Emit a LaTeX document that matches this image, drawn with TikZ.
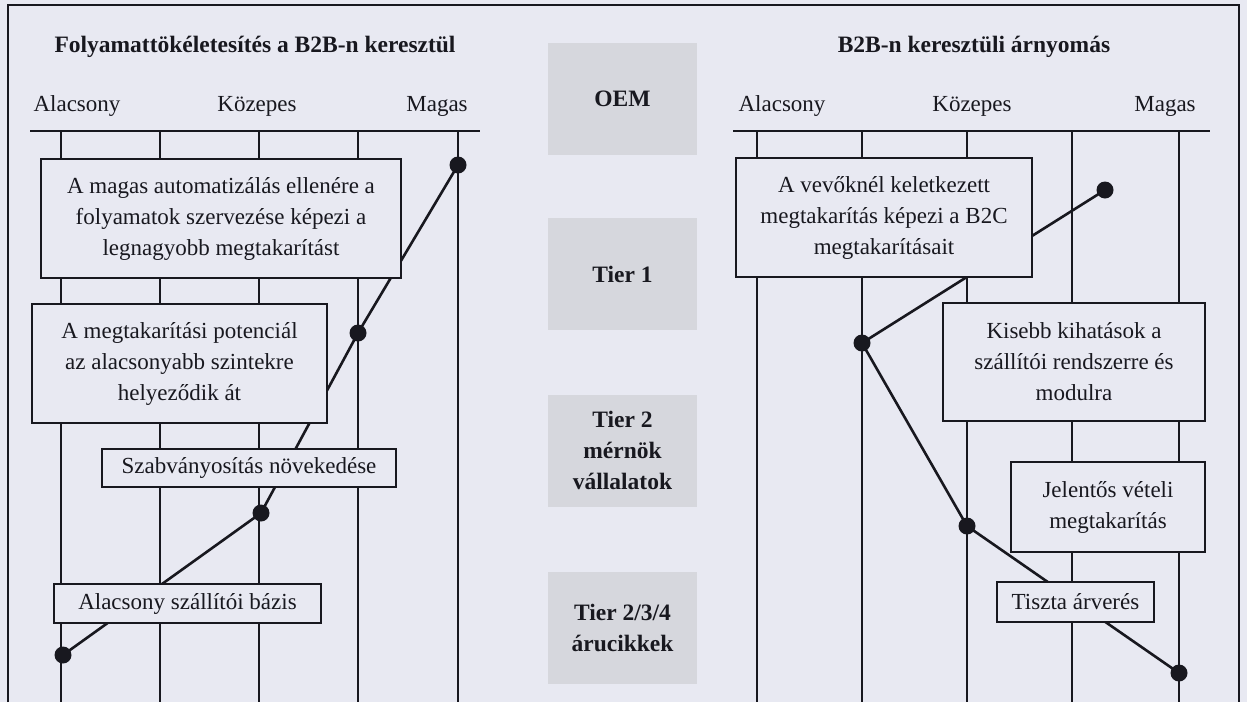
\documentclass[tikz,border=0pt]{standalone}
\usepackage{fontspec}
\setmainfont{Liberation Serif}
\definecolor{paper}{HTML}{E8E9F2}
\definecolor{ink}{HTML}{18181F}
\definecolor{shade}{HTML}{D6D7DD}
\tikzset{
  txt/.style={font=\fontsize{23}{31}\selectfont, text=ink, inner sep=0pt},
  ttl/.style={font=\bfseries\fontsize{23.5}{31}\selectfont, text=ink, inner sep=0pt},
  box/.style={draw=ink, line width=1.4pt, fill=paper, align=center,
    font=\fontsize{23}{31}\selectfont, text=ink, inner sep=0pt},
  tier/.style={fill=shade, align=center, font=\bfseries\fontsize{23.5}{31}\selectfont,
    text=ink, inner sep=0pt, minimum width=149pt, minimum height=112pt},
  rail/.style={draw=ink, line width=1.4pt},
  frame/.style={draw=ink, line width=2pt},
  trend/.style={draw=ink, line width=2.6pt},
  dot/.style={circle, fill=ink, minimum size=17pt, inner sep=0pt},
}
\begin{document}
\begin{tikzpicture}[x=1pt,y=-1pt]
\fill[paper] (0,0) rectangle (1247,702);
\useasboundingbox (0,0) rectangle (1247,702);
% outer frame, open at the bottom
\draw[frame] (8,702) -- (8,5) -- (1239,5) -- (1239,702);

% ---------- left panel: process improvement ----------
\node[ttl] (ltitle) at (255,47) {Folyamattökéletesítés a B2B-n keresztül};
\node[txt] (llow) at (77,106) {Alacsony};
\node[txt] (lmid) at (257,106) {Közepes};
\node[txt] (lhigh) at (437,106) {Magas};
\draw[rail] (30,131) -- (480,131);
\foreach \x in {61,160,259,358,458} \draw[rail] (\x,131) -- (\x,702);

\coordinate (la) at (458,165);
\coordinate (lb) at (358,333);
\coordinate (lc) at (261,513);
\coordinate (ld) at (63,655);
\draw[trend] (la) -- (lb) -- (lc) -- (ld);

\node[box, minimum width=360pt, minimum height=119pt] (l1) at (221,218.5)
  {A magas automatizálás ellenére a\\folyamatok szervezése képezi a\\legnagyobb megtakarítást};
\node[box, minimum width=295pt, minimum height=119pt] (l2) at (179.5,363.5)
  {A megtakarítási potenciál\\az alacsonyabb szintekre\\helyeződik át};
\node[box, minimum width=294pt, minimum height=38pt] (l3) at (249,468)
  {Szabványosítás növekedése};
\node[box, minimum width=267pt, minimum height=39pt] (l4) at (187.5,603.5)
  {Alacsony szállítói bázis};
\foreach \p in {la,lb,lc,ld} \node[dot] at (\p) {};

% ---------- middle column: supplier tiers ----------
\node[tier] (oem) at (622.5,98.5) {OEM};
\node[tier] (t1) at (622.5,274) {Tier 1};
\node[tier] (t2) at (622.5,450.5) {Tier 2\\mérnök\\vállalatok};
\node[tier] (t234) at (622.5,627.5) {Tier 2/3/4\\árucikkek};

% ---------- right panel: price pressure ----------
\node[ttl] (rtitle) at (974,47) {B2B-n keresztüli árnyomás};
\node[txt] (rlow) at (782,106) {Alacsony};
\node[txt] (rmid) at (972,106) {Közepes};
\node[txt] (rhigh) at (1165,106) {Magas};
\draw[rail] (733,131) -- (1210,131);
\foreach \x in {757,862,967,1072,1179} \draw[rail] (\x,131) -- (\x,702);

\coordinate (ra) at (1105,190);
\coordinate (rb) at (862,343);
\coordinate (rc) at (967,526);
\coordinate (rd) at (1179,673);
\draw[trend] (ra) -- (rb) -- (rc) -- (rd);

\node[box, minimum width=296pt, minimum height=119pt] (r1) at (884,217.5)
  {A vevőknél keletkezett\\megtakarítás képezi a B2C\\megtakarításait};
\node[box, minimum width=262pt, minimum height=118pt] (r2) at (1074,362)
  {Kisebb kihatások a\\szállítói rendszerre és\\modulra};
\node[box, minimum width=194pt, minimum height=90pt] (r3) at (1108,507)
  {Jelentős vételi\\megtakarítás};
\node[box, minimum width=157pt, minimum height=40pt] (r4) at (1075.5,602)
  {Tiszta árverés};
\foreach \p in {ra,rb,rc,rd} \node[dot] at (\p) {};
\end{tikzpicture}
\end{document}
